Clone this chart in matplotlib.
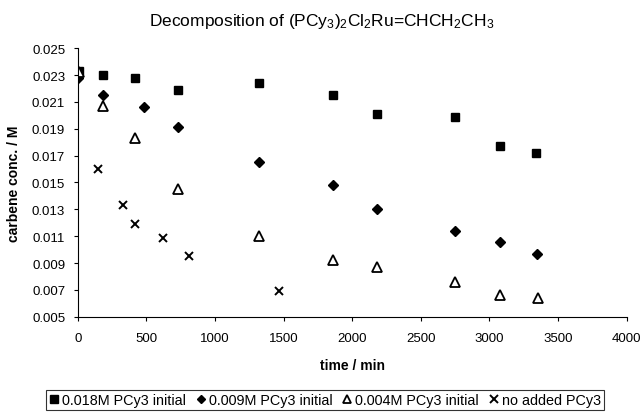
import matplotlib
matplotlib.use("Agg")
import matplotlib.pyplot as plt

plt.rcParams['font.family'] = ['Liberation Sans', 'DejaVu Sans']
plt.rcParams['mathtext.default'] = 'regular'

t_sq = [12, 187, 418, 729, 1324, 1862, 2178, 2749, 3077, 3337]
c_sq = [0.0233, 0.0230, 0.0228, 0.0219, 0.0224, 0.0215, 0.0201, 0.0199, 0.0177, 0.0172]

t_di = [0, 187, 485, 729, 1324, 1862, 2178, 2749, 3077, 3344]
c_di = [0.0228, 0.0215, 0.0206, 0.0191, 0.0165, 0.0148, 0.0130, 0.0114, 0.0106, 0.0097]

t_tr = [12, 187, 418, 729, 1324, 1862, 2178, 2749, 3077, 3356]
c_tr = [0.0232, 0.0207, 0.0183, 0.0145, 0.0110, 0.0092, 0.0087, 0.0076, 0.0066, 0.0064]

t_x = [151, 333, 418, 624, 814, 1469]
c_x = [0.0160, 0.0133, 0.0119, 0.0109, 0.0095, 0.0069]

labels = ["0.018M PCy3 initial", "0.009M PCy3 initial", "0.004M PCy3 initial", "no added PCy3"]
xticks = [0, 500, 1000, 1500, 2000, 2500, 3000, 3500, 4000]
yticks = [0.005, 0.007, 0.009, 0.011, 0.013, 0.015, 0.017, 0.019, 0.021, 0.023, 0.025]

fig = plt.figure(figsize=(6.44, 4.14), dpi=100)
ax = fig.add_axes([0.1207, 0.2326, 0.8524, 0.6484])

h1, = ax.plot(t_sq, c_sq, ls='none', marker='s', ms=6.2, color='black', label=labels[0])
h2, = ax.plot(t_di, c_di, ls='none', marker='D', ms=4.6, color='black', label=labels[1])
h3, = ax.plot(t_tr, c_tr, ls='none', marker='^', ms=6.5, mfc='white', mec='black', mew=1.3, label=labels[2])
h4, = ax.plot(t_x, c_x, ls='none', marker='x', ms=6.2, mec='black', mew=1.4, label=labels[3])

ax.set_xlim(0, 4000)
ax.set_ylim(0.005, 0.025)
ax.set_xticks(xticks)
ax.set_yticks(yticks)
ax.set_yticklabels([f"{v:.3f}" for v in yticks])
ax.tick_params(labelsize=9.5, direction='out', length=3)
ax.tick_params(axis='x', pad=8)
ax.tick_params(axis='y', pad=6)
for s in ['top', 'right']:
    ax.spines[s].set_visible(False)
ax.set_xlabel("time / min", fontsize=10, fontweight='bold', labelpad=10)
ax.set_ylabel("carbene conc. / M", fontsize=10, fontweight='bold', labelpad=8)
fig.suptitle("Decomposition of (PCy$_3$)$_2$Cl$_2$Ru=CHCH$_2$CH$_3$", fontsize=12.5, y=0.97)

leg = fig.legend(handles=[h1, h2, h3, h4], loc='lower center', bbox_to_anchor=(0.505, 0.0),
                 ncol=4, fontsize=10.4, frameon=True, fancybox=False, edgecolor='black',
                 handlelength=0.6, handletextpad=0.25, columnspacing=0.75, borderpad=0.2,
                 markerscale=0.85, borderaxespad=0.2)
leg.get_frame().set_linewidth(0.8)

fig.savefig("out.png", dpi=100)
